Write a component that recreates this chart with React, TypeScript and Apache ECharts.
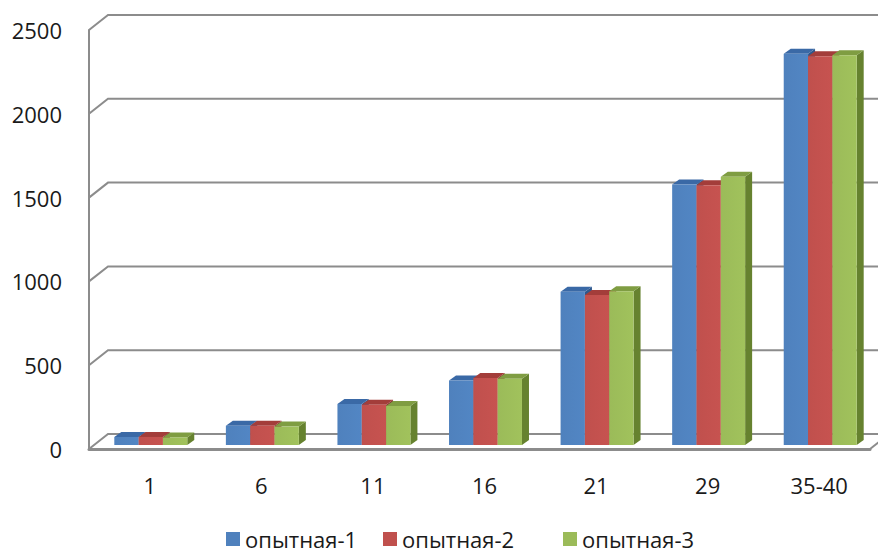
import React, { useEffect, useRef } from "react";
import * as echarts from "echarts";

// Age groups (days) along the floor of the chart
const categories = ["1", "6", "11", "16", "21", "29", "35-40"];
const seriesNames = ["опытная-1", "опытная-2", "опытная-3"];
const group1 = [48, 115, 245, 385, 915, 1555, 2335];
const group2 = [48, 115, 240, 400, 895, 1550, 2320];
const group3 = [45, 110, 232, 395, 918, 1600, 2325];
const yTicks = [0, 500, 1000, 1500, 2000, 2500];

// front / top / side shades for each column colour
const shades = [
  { front: "#4F81BD", top: "#3A69A6", side: "#2F588C" },
  { front: "#C0504D", top: "#A33D3A", side: "#8A3330" },
  { front: "#9BBB59", top: "#7F9D42", side: "#66822F" },
];

// left edge of each legend entry
const legendLefts = [226, 383, 563];

// depth of the floor (front edge to back wall) and of a single column
const WALL_DX = 19;
const WALL_DY = -15;
const BAR_SHIFT_X = 6;
const BAR_SHIFT_Y = -4;
const BAR_DEPTH_X = 7;
const BAR_DEPTH_Y = -5;
const LINE_COLOR = "#8C8C8C";

function makeColumnRenderer(seriesIdx: number) {
  return (params: any, api: any) => {
    const idx = api.value(0);
    const v = api.value(1);
    const base = api.coord([idx, 0]);
    const top = api.coord([idx, v]);
    const band = api.size([1, 0])[0];
    const w = band * 0.218;
    const x0 = base[0] - 1.5 * w + seriesIdx * w + BAR_SHIFT_X;
    const x1 = x0 + w;
    const yb = base[1] + BAR_SHIFT_Y;
    const yt = top[1] + BAR_SHIFT_Y;
    const c = shades[seriesIdx];
    return {
      type: "group",
      children: [
        {
          type: "polygon",
          shape: {
            points: [
              [x1, yt],
              [x1 + BAR_DEPTH_X, yt + BAR_DEPTH_Y],
              [x1 + BAR_DEPTH_X, yb + BAR_DEPTH_Y],
              [x1, yb],
            ],
          },
          style: { fill: c.side },
        },
        {
          type: "polygon",
          shape: {
            points: [
              [x0, yt],
              [x0 + BAR_DEPTH_X, yt + BAR_DEPTH_Y],
              [x1 + BAR_DEPTH_X, yt + BAR_DEPTH_Y],
              [x1, yt],
            ],
          },
          style: { fill: c.top },
        },
        {
          type: "rect",
          shape: { x: x0, y: yt, width: w, height: yb - yt },
          style: {
            fill: new echarts.graphic.LinearGradient(0, 0, 1, 0, [
              { offset: 0, color: c.front },
              { offset: 1, color: echarts.color.lift(c.front, -0.04) },
            ]),
          },
        },
      ],
    };
  };
}

// back wall gridlines plus the slanted segments on the left wall
function renderWall(params: any, api: any) {
  const v = api.value(1);
  const cs = params.coordSys;
  const y = api.coord([0, v])[1];
  const children: any[] = [
    {
      type: "polyline",
      shape: {
        points: [
          [cs.x, y],
          [cs.x + WALL_DX, y + WALL_DY],
          [cs.x + cs.width + WALL_DX, y + WALL_DY],
        ],
      },
      style: { stroke: LINE_COLOR, lineWidth: 2, fill: "none" },
    },
  ];
  if (v === 0) {
    children.push({
      type: "line",
      shape: {
        x1: cs.x + cs.width,
        y1: y,
        x2: cs.x + cs.width + WALL_DX,
        y2: y + WALL_DY,
      },
      style: { stroke: LINE_COLOR, lineWidth: 2 },
    });
  }
  return { type: "group", children };
}

export default function App() {
  const ref = useRef<HTMLDivElement>(null);

  useEffect(() => {
    if (!ref.current) return;
    const chart = echarts.init(ref.current, undefined, { renderer: "svg" });
    const values = [group1, group2, group3];
    const font = "'Open Sans', 'Noto Sans', sans-serif";

    chart.setOption({
      animation: false,
      backgroundColor: "#ffffff",
      textStyle: { fontFamily: font },
      grid: { left: 89, right: 8, top: 30, bottom: 107 },
      legend: seriesNames.map((name, i) => ({
        data: [name],
        left: legendLefts[i],
        top: 528,
        padding: 0,
        icon: "rect",
        itemWidth: 14,
        itemHeight: 14,
        textStyle: { fontSize: 22, color: "#1a1a1a", fontFamily: font },
      })),
      xAxis: {
        type: "category",
        data: categories,
        axisLine: { show: true, lineStyle: { color: LINE_COLOR, width: 3 } },
        axisTick: { show: false },
        splitLine: { show: false },
        axisLabel: {
          fontSize: 22,
          color: "#1a1a1a",
          margin: 25,
          padding: [0, 0, 0, 10],
          fontFamily: font,
        },
      },
      yAxis: {
        type: "value",
        min: 0,
        max: 2500,
        interval: 500,
        axisLine: { show: true, lineStyle: { color: LINE_COLOR, width: 2 } },
        axisTick: { show: false },
        splitLine: { show: false },
        axisLabel: {
          fontSize: 22,
          color: "#1a1a1a",
          margin: 27,
          fontFamily: font,
          formatter: (v: number) => String(v),
        },
      },
      series: [
        {
          type: "custom",
          name: "wall",
          silent: true,
          z: 1,
          renderItem: renderWall,
          data: yTicks.map((t) => [0, t]),
          encode: { x: 0, y: 1 },
        },
        ...seriesNames.map((name, si) => ({
          type: "custom",
          name,
          z: 2 + si,
          itemStyle: { color: shades[si].front },
          renderItem: makeColumnRenderer(si),
          data: values[si].map((v, i) => [i, v]),
          encode: { x: 0, y: 1 },
        })),
      ],
    });

    return () => chart.dispose();
  }, []);

  return (
    <div
      ref={ref}
      style={{ position: "fixed", left: 0, top: 0, width: 878, height: 556 }}
    />
  );
}
